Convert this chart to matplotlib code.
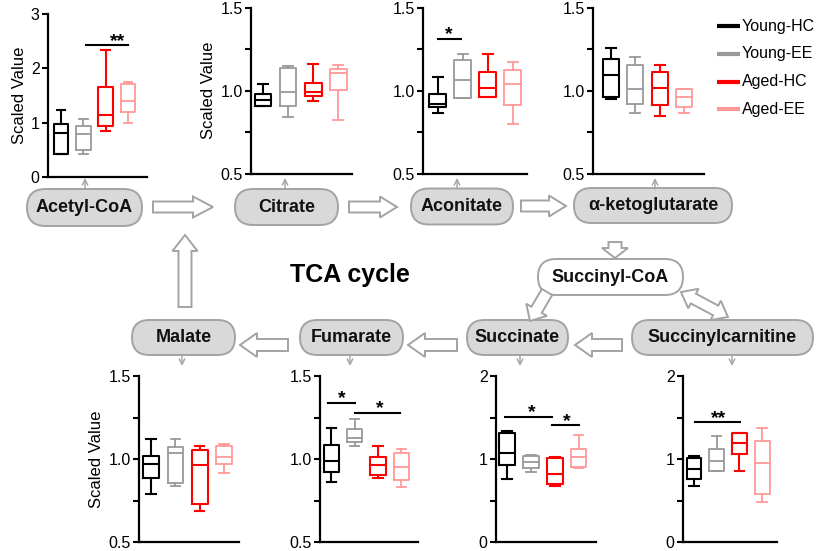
import matplotlib
matplotlib.use('Agg')
import matplotlib.pyplot as plt
import numpy as np
from matplotlib.patches import FancyBboxPatch, FancyArrow, Polygon
from matplotlib.ticker import MultipleLocator, FormatStrFormatter

plt.rcParams['font.family'] = ['Liberation Sans', 'DejaVu Sans']

# ---------------- data ----------------
groups = ['Young-HC', 'Young-EE', 'Aged-HC', 'Aged-EE']
colors = ['#000000', '#999999', '#ff0000', '#ff9999']
lwidths = [1.5, 1.3, 1.5, 1.3]

# box stats per group: [whislo, q1, median, q3, whishi]
acetyl_coa = [[0.43, 0.43, 0.81, 0.98, 1.23],
              [0.43, 0.49, 0.80, 0.94, 1.06],
              [0.84, 0.93, 1.14, 1.65, 2.34],
              [1.00, 1.20, 1.40, 1.72, 1.75]]
citrate = [[0.91, 0.91, 0.944, 0.98, 1.038],
           [0.844, 0.908, 0.994, 1.138, 1.148],
           [0.94, 0.968, 0.995, 1.048, 1.16],
           [0.824, 1.004, 1.108, 1.128, 1.152]]
aconitate = [[0.866, 0.90, 0.92, 0.983, 1.08],
             [0.955, 0.955, 1.063, 1.186, 1.222],
             [0.96, 0.96, 1.017, 1.115, 1.218],
             [0.80, 0.914, 1.04, 1.124, 1.174]]
ketoglutarate = [[0.95, 0.963, 1.094, 1.192, 1.255],
                 [0.866, 0.92, 1.013, 1.154, 1.202],
                 [0.846, 0.916, 1.017, 1.112, 1.152],
                 [0.866, 0.90, 0.96, 1.01, 1.01]]
malate = [[0.789, 0.883, 0.968, 1.016, 1.12],
          [0.838, 0.858, 1.038, 1.07, 1.119],
          [0.687, 0.731, 0.966, 1.053, 1.077],
          [0.913, 0.969, 1.012, 1.079, 1.093]]
fumarate = [[0.862, 0.919, 0.987, 1.083, 1.184],
            [1.077, 1.104, 1.128, 1.18, 1.24],
            [0.888, 0.902, 0.963, 1.013, 1.077],
            [0.832, 0.876, 0.949, 1.039, 1.059]]
succinate = [[0.765, 0.926, 1.074, 1.316, 1.336],
             [0.845, 0.897, 0.962, 1.034, 1.046],
             [0.672, 0.696, 0.825, 1.018, 1.026],
             [0.897, 0.905, 1.026, 1.119, 1.288]]
succinylcarnitine = [[0.676, 0.757, 0.885, 1.014, 1.034],
                     [0.853, 0.853, 0.974, 1.115, 1.276],
                     [0.857, 1.058, 1.187, 1.308, 1.316],
                     [0.483, 0.584, 0.954, 1.219, 1.368]]

# significance annotations: (x_start, x_end, x_label, y, label)
sig_acetyl = [(2.12, 4.0, 3.55, 2.43, '**')]
sig_aconitate = [(1.02, 1.94, 1.46, 1.313, '*')]
sig_fumarate = [(0.845, 2.02, 1.46, 1.339, '*'), (2.02, 3.95, 3.09, 1.279, '*')]
sig_succinate = [(0.908, 2.87, 2.03, 1.509, '*'), (2.87, 4.03, 3.50, 1.408, '*')]
sig_succinylcarnitine = [(1.044, 3.03, 2.10, 1.441, '**')]

W, H = 829, 551
fig = plt.figure(figsize=(W / 100, H / 100), dpi=100)

# ---------------- pathway diagram (pixel coordinates) ----------------
ax0 = fig.add_axes([0, 0, 1, 1])
ax0.set_xlim(0, W)
ax0.set_ylim(H, 0)
ax0.axis('off')

EDGE = '#a3a3a3'
FILL = '#d9d9d9'

nodes = [('Acetyl-CoA', 84.5, 207.5, 115, 37, FILL),
         ('Citrate', 286.5, 207, 103, 36, FILL),
         ('Aconitate', 462, 206.5, 102, 36, FILL),
         ('α-ketoglutarate', 653, 205.5, 158, 35, FILL),
         ('Succinyl-CoA', 610.5, 277, 145, 36, 'white'),
         ('Malate', 183.5, 337.5, 103, 35, FILL),
         ('Fumarate', 351.5, 337.5, 103, 35, FILL),
         ('Succinate', 517.5, 337.5, 101, 35, FILL),
         ('Succinylcarnitine', 722.5, 337.5, 181, 35, FILL)]
for name, cx, cy, w, h, fc in nodes:
    p = FancyBboxPatch((cx - w / 2, cy - h / 2), w, h,
                       boxstyle='round,pad=0,rounding_size=%f' % (h / 2),
                       fc=fc, ec=EDGE, lw=1.4, zorder=2)
    ax0.add_patch(p)
    ax0.text(cx, cy, name, ha='center', va='center', fontsize=13,
             fontweight='bold', color='#111111', zorder=3)

ax0.text(350, 275, 'TCA cycle', ha='center', va='center', fontsize=18,
         fontweight='bold', color='black')


def block_arrow(x0, y0, x1, y1, w=12, hw=25, hl=17):
    a = FancyArrow(x0, y0, x1 - x0, y1 - y0, width=w, head_width=hw,
                   head_length=hl, length_includes_head=True,
                   fc='white', ec=EDGE, lw=1.4, zorder=2)
    ax0.add_patch(a)


def double_arrow(p0, p1, w=11, hw=22, hl=14):
    p0 = np.array(p0, float)
    p1 = np.array(p1, float)
    u = (p1 - p0) / np.linalg.norm(p1 - p0)
    n = np.array([-u[1], u[0]])
    b0 = p0 + u * hl
    b1 = p1 - u * hl
    pts = [p0, b0 + n * hw / 2, b0 + n * w / 2, b1 + n * w / 2, b1 + n * hw / 2,
           p1, b1 - n * hw / 2, b1 - n * w / 2, b0 - n * w / 2, b0 - n * hw / 2]
    ax0.add_patch(Polygon(pts, closed=True, fc='white', ec=EDGE, lw=1.4, zorder=2))


block_arrow(153, 207, 213, 207, w=11, hw=21, hl=20)
block_arrow(349, 207, 397, 207, w=11, hw=21, hl=17)
block_arrow(521, 206, 566, 206, w=11, hw=21, hl=17)
block_arrow(615, 242, 615, 258, w=13, hw=26, hl=10)
block_arrow(547, 292, 530, 321, w=12, hw=24, hl=13)
double_arrow((681, 292), (728, 317))
block_arrow(622, 345, 575, 345, w=12, hw=24, hl=17)
block_arrow(457, 345, 408, 345, w=12, hw=24, hl=17)
block_arrow(288, 345, 240, 345, w=12, hw=24, hl=17)
block_arrow(185, 307, 185, 235, w=13, hw=25, hl=16)

# thin connector arrows to plots
for x in [85, 285, 457, 655]:
    ax0.annotate('', xy=(x, 178), xytext=(x, 189),
                 arrowprops=dict(arrowstyle='->', color=EDGE, lw=1,
                                 shrinkA=0, shrinkB=0))
for x in [182, 350, 520, 732]:
    ax0.annotate('', xy=(x, 366), xytext=(x, 356),
                 arrowprops=dict(arrowstyle='->', color=EDGE, lw=1,
                                 shrinkA=0, shrinkB=0))

# legend (manual, pixel coords)
for i, (g, c) in enumerate(zip(groups, colors)):
    y = 26 + i * 27.8
    ax0.plot([717, 740], [y, y], color=c, lw=3, solid_capstyle='butt')
    ax0.text(742, y, g, ha='left', va='center', fontsize=11.5, color='black')

# ---------------- box plots ----------------
panels = [
    # data, left, top, right, bottom (px), ylim, major, minor, fmt, xlim, ylabel, sig
    (acetyl_coa, 48, 14, 147, 177, (0, 3), 1, 1, '%d', (0.417, 4.85), True, sig_acetyl),
    (citrate, 251, 7.5, 352, 174, (0.5, 1.5), 0.5, 0.25, '%.1f', (0.52, 4.54), True, []),
    (aconitate, 423, 7.5, 527, 174, (0.5, 1.5), 0.5, 0.25, '%.1f', (0.42, 4.57), False, sig_aconitate),
    (ketoglutarate, 593, 7.5, 704, 174, (0.5, 1.5), 0.5, 0.25, '%.1f', (0.26, 4.82), False, []),
    (malate, 139, 376, 239, 542, (0.5, 1.5), 0.5, 0.25, '%.1f', (0.49, 4.63), True, []),
    (fumarate, 320, 376, 418, 542, (0.5, 1.5), 0.5, 0.25, '%.1f', (0.515, 4.72), False, sig_fumarate),
    (succinate, 496, 376, 596, 542, (0, 2), 1, 0.5, '%d', (0.53, 4.73), False, sig_succinate),
    (succinylcarnitine, 683, 376, 777, 542, (0, 2), 1, 0.5, '%d', (0.515, 4.66), False, sig_succinylcarnitine),
]

for (data, l, t, r, b, ylim, maj, mnr, fmt, xlim, ylab, sigs) in panels:
    ax = fig.add_axes([l / W, 1 - b / H, (r - l) / W, (b - t) / H])
    ax.patch.set_alpha(0)
    for i, (st, c, lw) in enumerate(zip(data, colors, lwidths)):
        stats = [dict(whislo=st[0], q1=st[1], med=st[2], q3=st[3], whishi=st[4])]
        ax.bxp(stats, positions=[i + 1], widths=0.66, capwidths=0.4,
               showfliers=False, manage_ticks=False,
               boxprops=dict(color=c, lw=lw),
               medianprops=dict(color=c, lw=lw),
               whiskerprops=dict(color=c, lw=lw),
               capprops=dict(color=c, lw=lw))
    ax.set_xlim(*xlim)
    ax.set_ylim(*ylim)
    for s in ['top', 'right']:
        ax.spines[s].set_visible(False)
    for s in ['left', 'bottom']:
        ax.spines[s].set_linewidth(1.6)
    ax.set_xticks([])
    ax.yaxis.set_major_locator(MultipleLocator(maj))
    ax.yaxis.set_minor_locator(MultipleLocator(mnr))
    ax.yaxis.set_major_formatter(FormatStrFormatter(fmt))
    ax.tick_params(axis='y', which='both', length=4, width=1.5, pad=2,
                   labelsize=11.5, direction='out')
    if ylab:
        ax.set_ylabel('Scaled Value', fontsize=12, labelpad=3)
    for (x1, x2, xs, y, lab) in sigs:
        ax.plot([x1, x2], [y, y], color='black', lw=1.5, clip_on=False)
        ax.annotate(lab, xy=(xs, y), xytext=(0, -0.5), textcoords='offset points',
                    ha='center', va='baseline', fontsize=14, fontweight='bold')

fig.savefig('out.png', dpi=100)
